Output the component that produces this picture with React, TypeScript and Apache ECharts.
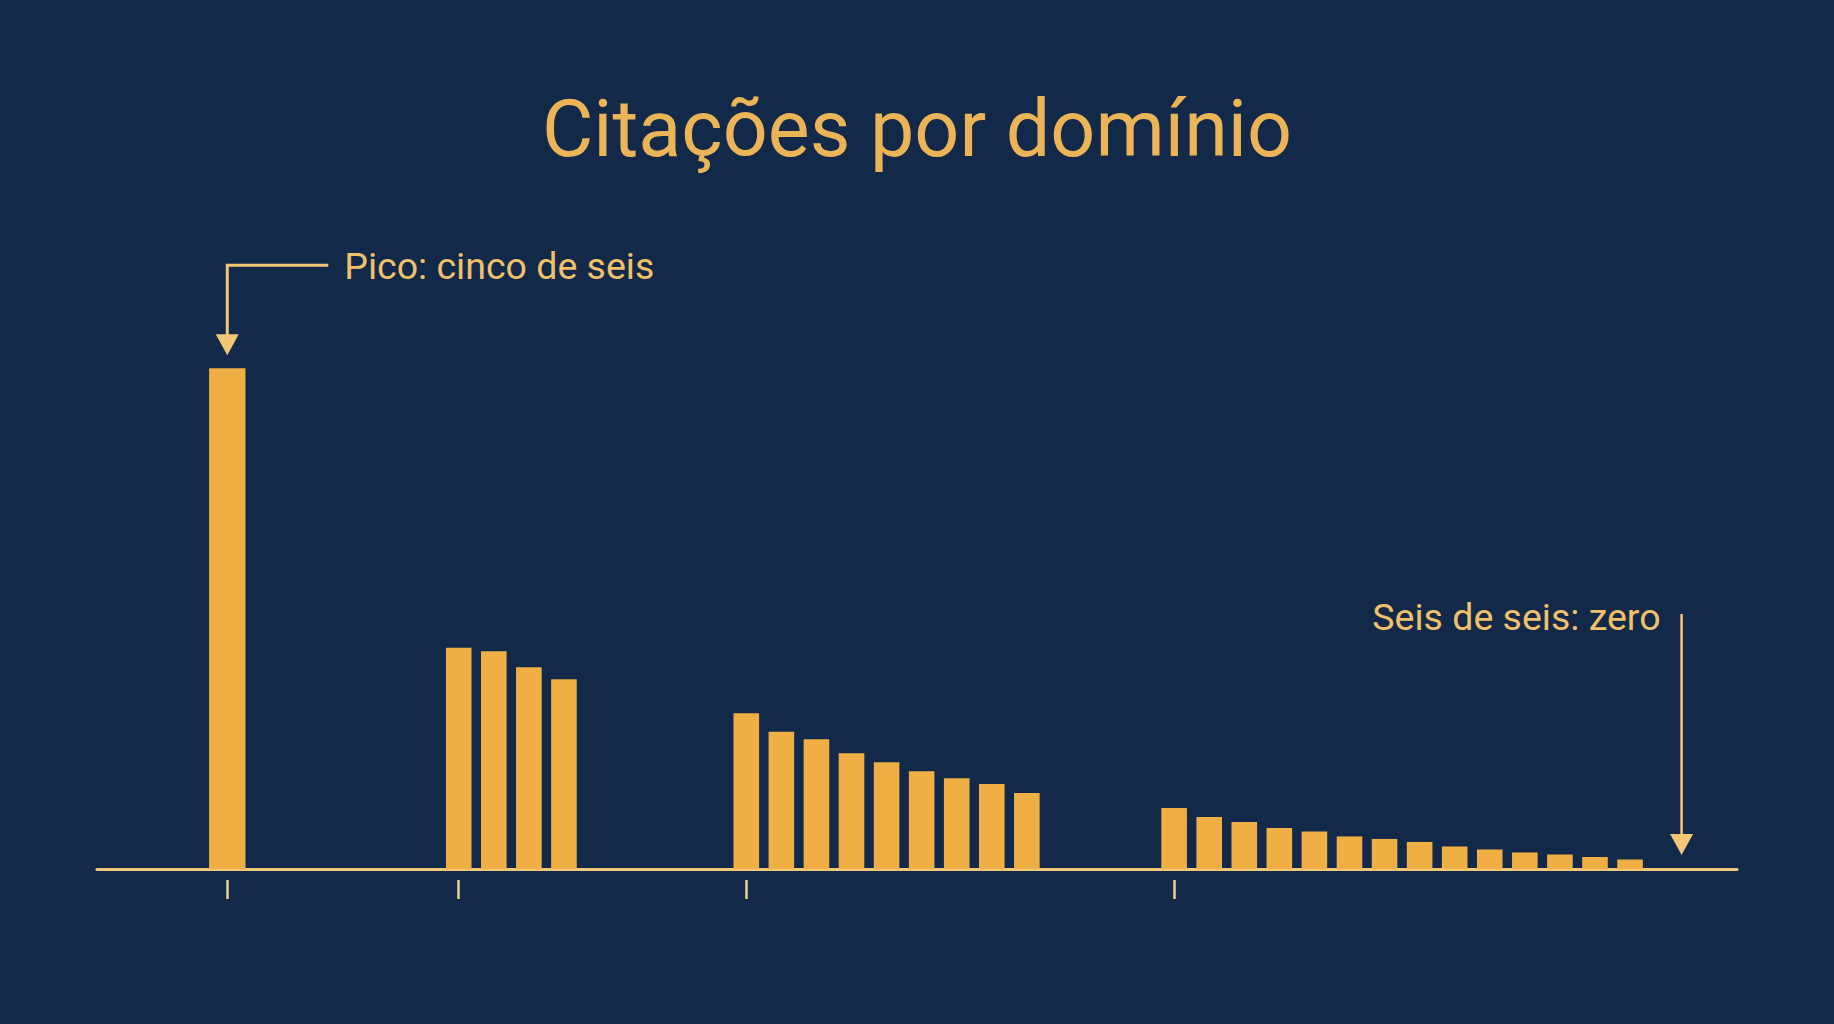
import React, { useEffect, useRef } from "react";
import * as echarts from "echarts";

// ---- data ----
const title = "Citações por domínio";
const peakLabel = "Pico: cinco de seis";
const zeroLabel = "Seis de seis: zero";

// group start positions on the x scale (in bar slots)
const groupStarts = [0, 6.6, 14.8, 27];
const zeroPosition = 41.47;
const xMin = -3.715;
const xMax = 43.05;

const peakValues = [100];
const group2Values = [44.2, 43.5, 40.3, 37.9];
const group3Values = [31.1, 27.4, 25.9, 23.1, 21.3, 19.5, 18.1, 17.0, 15.2];
const group4Values = [12.2, 10.4, 9.4, 8.2, 7.5, 6.5, 6.0, 5.4, 4.5, 3.9, 3.3, 2.9, 2.4, 1.9];

// ---- style ----
const BG = "#12294a";
const BAR = "#efaf44";
const AXIS = "#f1c675";
const TICK = "#ecd08f";
const TEXT = "#f0c06a";
const TITLE = "#ebb457";
const FONT = "Roboto, 'Noto Sans', sans-serif";

const buildGroup = (start: number, values: number[]) =>
  values.map((v, i) => [start + i, v]);

export default function App() {
  const ref = useRef<HTMLDivElement>(null);

  useEffect(() => {
    if (!ref.current) return;
    const chart = echarts.init(ref.current, undefined, { renderer: "svg" });

    const smallBars = [
      ...buildGroup(groupStarts[1], group2Values),
      ...buildGroup(groupStarts[2], group3Values),
      ...buildGroup(groupStarts[3], group4Values),
    ];
    const peakBars = buildGroup(groupStarts[0], peakValues);

    chart.setOption({
      animation: false,
      backgroundColor: BG,
      grid: { left: 97, right: 97, top: 368.3, bottom: 155, containLabel: false },
      xAxis: [
        {
          type: "value",
          min: xMin,
          max: xMax,
          axisLine: { show: true, lineStyle: { color: AXIS, width: 3.2 } },
          axisTick: { show: false },
          axisLabel: { show: false },
          splitLine: { show: false },
        },
        {
          type: "value",
          min: xMin,
          max: xMax,
          position: "bottom",
          offset: 11,
          axisLine: { show: false },
          axisTick: {
            show: true,
            customValues: groupStarts,
            length: 19,
            lineStyle: { color: TICK, width: 2.5 },
          },
          axisLabel: { show: false },
          splitLine: { show: false },
        },
      ],
      yAxis: {
        type: "value",
        min: 0,
        max: 100,
        show: false,
        splitLine: { show: false },
      },
      series: [
        {
          type: "bar",
          xAxisIndex: 0,
          yAxisIndex: 0,
          data: smallBars,
          barWidth: 25.6,
          itemStyle: { color: BAR },
          z: 3,
        },
        {
          type: "bar",
          xAxisIndex: 1,
          yAxisIndex: 0,
          data: peakBars,
          barWidth: 36.4,
          itemStyle: { color: BAR },
          z: 3,
        },
      ],
    });

    const peak = chart.convertToPixel({ xAxisIndex: 1, yAxisIndex: 0 }, [groupStarts[0], peakValues[0]]) as number[];
    const zero = chart.convertToPixel({ xAxisIndex: 0, yAxisIndex: 0 }, [zeroPosition, 0]) as number[];
    const W = chart.getWidth();

    const px = peak[0];
    const tipY = peak[1] - 13;
    const headH = 21;
    const headW = 23;
    const lineY = peak[1] - 103;

    const zx = zero[0];
    const zTip = zero[1] - 14;
    const zTop = zero[1] - 255;

    chart.setOption({
      graphic: [
        {
          type: "text",
          x: W / 2,
          y: 129,
          style: {
            text: title,
            fill: TITLE,
            font: `400 79px ${FONT}`,
            align: "center",
            verticalAlign: "middle",
          },
        },
        {
          type: "polyline",
          shape: { points: [[px + 101, lineY], [px, lineY], [px, tipY - headH + 1]] },
          style: { stroke: AXIS, lineWidth: 3, fill: null },
        },
        {
          type: "polygon",
          shape: { points: [[px - headW / 2, tipY - headH], [px + headW / 2, tipY - headH], [px, tipY]] },
          style: { fill: AXIS },
        },
        {
          type: "text",
          x: px + 117,
          y: lineY + 1,
          style: {
            text: peakLabel,
            fill: TEXT,
            font: `400 37.5px ${FONT}`,
            align: "left",
            verticalAlign: "middle",
          },
        },
        {
          type: "line",
          shape: { x1: zx, y1: zTop, x2: zx, y2: zTip - headH + 1 },
          style: { stroke: AXIS, lineWidth: 2.5 },
        },
        {
          type: "polygon",
          shape: { points: [[zx - headW / 2, zTip - headH], [zx + headW / 2, zTip - headH], [zx, zTip]] },
          style: { fill: AXIS },
        },
        {
          type: "text",
          x: zx - 21,
          y: zTop + 3,
          style: {
            text: zeroLabel,
            fill: TEXT,
            font: `400 37.5px ${FONT}`,
            align: "right",
            verticalAlign: "middle",
          },
        },
      ],
    });

    return () => chart.dispose();
  }, []);

  return (
    <div
      ref={ref}
      style={{ position: "fixed", left: 0, top: 0, width: 1834, height: 1024 }}
    />
  );
}
